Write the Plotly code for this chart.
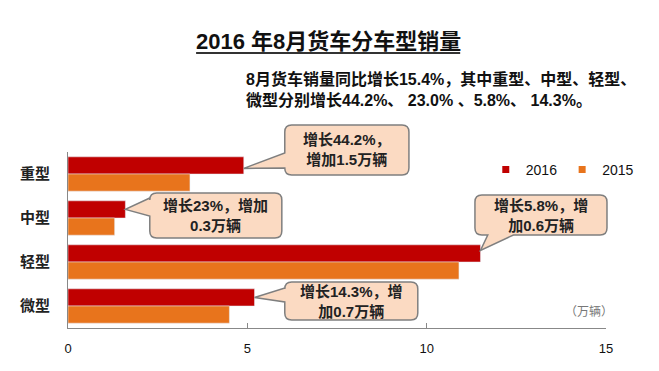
import plotly.graph_objects as go

categories = ["重型", "中型", "轻型", "微型"]
sales_2016 = [4.9, 1.6, 11.5, 5.2]
sales_2015 = [3.4, 1.3, 10.9, 4.5]
series_names = ["2016", "2015"]
x_ticks = [0, 5, 10, 15]
callout_texts = ["增长44.2%，<br>增加1.5万辆", "增长23%，增加<br>0.3万辆",
                 "增长5.8%，增<br>加0.6万辆", "增长14.3%，增<br>加0.7万辆"]
title_text = "2016 年8月货车分车型销量"
subtitle_text = "8月货车销量同比增长15.4%，其中重型、中型、轻型、<br>微型分别增长44.2%、 23.0% 、5.8%、 14.3%。"
unit_text = "（万辆）"

W, H = 659, 371
OFF = 8  # page body margin offset
L, R, T, B = 60, 606, 152, 328
XMAX = 15
BARGAP = 0.22
RED, ORANGE = "#C00000", "#E8741C"
FONT = "Liberation Sans, Noto Sans CJK SC, sans-serif"

def fx(px):
    return (px - L) / (R - L)

def fy(py):
    return (B - py) / (B - T)

def bar_px(value):
    return L + value / XMAX * (R - L)

def red_center_py(i):
    cat_h = (B - T) / len(categories)
    return T + (i + 0.5) * cat_h - (1 - BARGAP) / 4 * cat_h

callouts = [
    dict(box=(280, 125, 406, 175), side="left", base=(153, 168), dy=3),
    dict(box=(143, 193, 277, 238), side="left", base=(198, 216), dy=0),
    dict(box=(473, 195, 607, 235), side="bottom", base=(486, 512), dy=-3),
    dict(box=(280, 282, 415, 320), side="left", base=(288, 302), dy=0),
]

def bubble_path(box, side, base, tip, r=7):
    x0, y0, x1, y1 = box
    tx, ty = tip
    pts = []
    def P(cmd, *xy):
        coords = []
        for k in range(0, len(xy), 2):
            coords.append(f"{fx(xy[k]):.5f},{fy(xy[k+1]):.5f}")
        pts.append(cmd + " ".join(coords))
    P("M", x0 + r, y0)
    P("L", x1 - r, y0)
    P("Q", x1, y0, x1, y0 + r)
    P("L", x1, y1 - r)
    P("Q", x1, y1, x1 - r, y1)
    if side == "bottom":
        a, b = base
        P("L", b, y1)
        P("L", tx, ty)
        P("L", a, y1)
    P("L", x0 + r, y1)
    P("Q", x0, y1, x0, y1 - r)
    if side == "left":
        a, b = base
        P("L", x0, b)
        P("L", tx, ty)
        P("L", x0, a)
    P("L", x0, y0 + r)
    P("Q", x0, y0, x0 + r, y0)
    return " ".join(pts) + " Z"

fig = go.Figure()
fig.add_trace(go.Bar(y=categories, x=sales_2016, orientation="h", name=series_names[0],
                     marker_color=RED, showlegend=False))
fig.add_trace(go.Bar(y=categories, x=sales_2015, orientation="h", name=series_names[1],
                     marker_color=ORANGE, showlegend=False))
for nm, col in zip(series_names, [RED, ORANGE]):
    fig.add_trace(go.Scatter(x=[None], y=[None], mode="markers", name=nm,
                             marker=dict(symbol="square", size=7, color=col)))

shapes = []
annotations = []
for i, c in enumerate(callouts):
    tip = (bar_px(sales_2016[i]), red_center_py(i) + c["dy"])
    shapes.append(dict(type="path", xref="paper", yref="paper",
                       path=bubble_path(c["box"], c["side"], c["base"], tip),
                       fillcolor="#FBDAC2", line=dict(color="#7F7F7F", width=1.5), layer="above"))
    x0, y0, x1, y1 = c["box"]
    annotations.append(dict(xref="paper", yref="paper", x=fx((x0 + x1) / 2), y=fy((y0 + y1) / 2),
                            text="<b>" + callout_texts[i] + "</b>", showarrow=False,
                            font=dict(family=FONT, size=15, color="#222222"),
                            xanchor="center", yanchor="middle", align="center"))

shapes.append(dict(type="line", xref="paper", yref="paper", x0=fx(190), x1=fx(458),
                   y0=fy(53), y1=fy(53), line=dict(color="#333333", width=2)))

annotations.append(dict(xref="paper", yref="paper", x=fx(324), y=fy(41),
                        text="<b>" + title_text + "</b>", showarrow=False,
                        font=dict(family=FONT, size=22, color="#111111"),
                        xanchor="center", yanchor="middle"))
annotations.append(dict(xref="paper", yref="paper", x=fx(239), y=fy(89),
                        text="<b>" + subtitle_text + "</b>", showarrow=False,
                        font=dict(family=FONT, size=16, color="#111111"),
                        xanchor="left", yanchor="middle", align="left"))
annotations.append(dict(xref="paper", yref="paper", x=fx(589), y=fy(312),
                        text=unit_text, showarrow=False,
                        font=dict(family=FONT, size=12, color="#777777"),
                        xanchor="center", yanchor="middle"))

fig.update_layout(
    width=W, height=H,
    margin=dict(l=L - OFF, r=W - (R - OFF), t=T - OFF, b=H - (B - OFF), pad=0),
    paper_bgcolor="white", plot_bgcolor="white",
    barmode="group", bargap=BARGAP, bargroupgap=0,
    shapes=shapes, annotations=annotations,
    legend=dict(orientation="h", x=fx(484), y=fy(170), xanchor="left", yanchor="middle",
                font=dict(family=FONT, size=14, color="#111111"),
                itemwidth=30, bgcolor="rgba(0,0,0,0)"),
    xaxis=dict(range=[0, XMAX], tickvals=x_ticks, ticktext=[str(v) for v in x_ticks],
               showgrid=False, zeroline=False, showline=True, linecolor="#888888", linewidth=1,
               ticks="inside", ticklen=5, tickcolor="#888888",
               tickfont=dict(family=FONT, size=13, color="#111111"), ticklabelstandoff=8),
    yaxis=dict(categoryorder="array", categoryarray=categories, autorange="reversed",
               showgrid=False, zeroline=False, showline=True, linecolor="#888888", linewidth=1,
               ticks="", tickfont=dict(family=FONT, size=15, color="#222222", weight="bold"),
               ticklabelstandoff=14),
)

fig.write_html("out.html")
